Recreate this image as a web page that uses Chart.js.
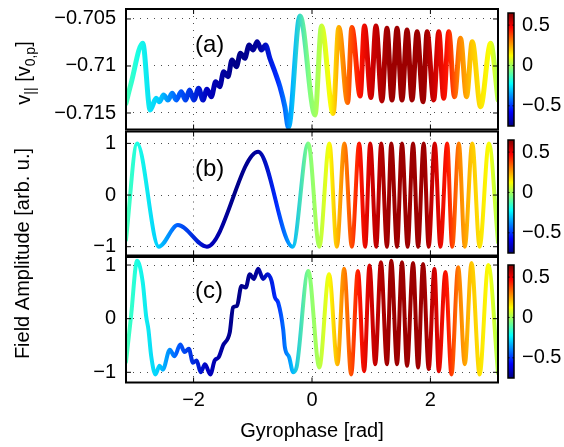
<!DOCTYPE html>
<html>
<head>
<meta charset="utf-8">
<script src="https://cdn.jsdelivr.net/npm/chart.js@4.4.0/dist/chart.umd.min.js"></script>
<style>
  html, body { margin: 0; padding: 0; background: #fff; }
  #wrap { position: relative; width: 564px; height: 447px; }
  #wrap canvas { position: absolute; left: 0; top: 0; }
</style>
</head>
<body>
<div id="wrap">
  <canvas id="panelA" width="564" height="447"></canvas>
  <canvas id="panelB" width="564" height="447"></canvas>
  <canvas id="panelC" width="564" height="447"></canvas>
</div>
<script>
// axis ticks
const phaseTicks = [-2, 0, 2];
const vparTicks = [-0.715, -0.71, -0.705];
const ampTicks = [-1, 0, 1];
const colourTicks = [-0.5, 0, 0.5];

// (a) parallel velocity vs gyrophase
const aPhase = [-3.142, -3.056, -2.859, -2.734, -2.633, -2.576, -2.508, -2.435, -2.361, -2.293,
  -2.209, -2.136, -2.068, -1.995, -1.915, -1.842, -1.775, -1.700, -1.627, -1.559,
  -1.492, -1.419, -1.351, -1.277, -1.209, -1.136, -1.062, -0.994, -0.927, -0.853,
  -0.785, -0.712, -0.627, -0.542, -0.458, -0.398, -0.203, 0.051, 0.161, 0.356,
  0.453, 0.602, 0.673, 0.814, 0.886, 0.995, 1.080, 1.181, 1.266, 1.351,
  1.436, 1.520, 1.605, 1.690, 1.775, 1.876, 1.944, 2.056, 2.141, 2.225,
  2.310, 2.407, 2.508, 2.610, 2.707, 2.847, 3.017, 3.142];
const aVpar = [-0.71397, -0.71184, -0.70758, -0.71468, -0.71344, -0.71380, -0.71309, -0.71362, -0.71291, -0.71362,
  -0.71273, -0.71362, -0.71255, -0.71362, -0.71237, -0.71362, -0.71248, -0.71326, -0.71167, -0.71220,
  -0.71061, -0.71114, -0.70936, -0.71007, -0.70865, -0.70918, -0.70777, -0.70830, -0.70741, -0.70830,
  -0.70777, -0.70918, -0.71061, -0.71220, -0.71433, -0.71654, -0.70468, -0.71521, -0.70574, -0.71505,
  -0.70590, -0.71388, -0.70590, -0.71319, -0.70574, -0.71335, -0.70574, -0.71372, -0.70599, -0.71362,
  -0.70599, -0.71362, -0.70617, -0.71362, -0.70635, -0.71380, -0.70635, -0.71362, -0.70635, -0.71344,
  -0.70635, -0.71326, -0.70705, -0.71326, -0.70741, -0.71433, -0.70759, -0.71362];

// (b) field amplitude
const bPhase = [-3.142, -2.954, -2.588, -2.266, -1.775, -0.910, -0.327, -0.063, 0.124, 0.293,
  0.419, 0.547, 0.673, 0.797, 0.898, 0.983, 1.085, 1.169, 1.266, 1.339,
  1.436, 1.520, 1.615, 1.707, 1.792, 1.886, 1.971, 2.073, 2.169, 2.283,
  2.368, 2.480, 2.581, 2.707, 2.831, 2.988, 3.142];
const bAmp = [-0.87, 1, -1, -0.58, -1, 0.84, -1, 1, -1, 1,
  -1, 1, -1, 1, -1, 1, -1, 1, -1, 1,
  -1, 1, -1, 1, -1, 1, -1, 1, -1, 1,
  -1, 1, -1, 1, -1, 1, -0.92];

// (c) field amplitude
const cPhase = [-3.142, -3.056, -2.954, -2.859, -2.802, -2.763, -2.717, -2.644, -2.576, -2.520,
  -2.402, -2.322, -2.225, -2.153, -2.080, -2.012, -1.949, -1.881, -1.808, -1.717,
  -1.644, -1.576, -1.503, -1.390, -1.333, -1.266, -1.192, -1.119, -1.051, -0.983,
  -0.910, -0.825, -0.751, -0.684, -0.627, -0.571, -0.486, -0.458, -0.385, -0.317,
  -0.259, -0.063, 0.124, 0.288, 0.429, 0.542, 0.661, 0.775, 0.881, 0.971,
  1.068, 1.164, 1.266, 1.339, 1.436, 1.520, 1.605, 1.707, 1.792, 1.876,
  1.971, 2.068, 2.141, 2.254, 2.356, 2.469, 2.581, 2.695, 2.831, 2.978, 3.142];
const cAmp = [-0.81, 0.05, 1.08, 0.68, 0.05, -0.2, -0.69, -1.04, -0.88, -0.95,
  -0.58, -0.70, -0.48, -0.62, -0.56, -0.82, -0.78, -1.0, -0.85, -1.04,
  -0.78, -0.72, -0.50, -0.26, 0.21, 0.24, 0.61, 0.58, 0.83, 0.74,
  0.93, 0.74, 0.83, 0.71, 0.40, 0.30, -0.20, -0.53, -0.72, -1.0,
  -0.9, 0.89, -0.91, 0.83, -0.85, 0.93, -1.04, 0.89, -0.98, 0.99,
  -0.85, 1.05, -0.85, 1.08, -0.85, 1.05, -0.88, 1.04, -0.91, 1.02,
  -0.94, 0.93, -0.98, 0.87, -1.04, 0.96, -0.85, 1.04, -1.04, 1.0, -1.02];

// colour value along gyrophase
const colourPhase = [-3.142, -2.95, -2.6, -2.27, -1.77, -1.3, -0.91, -0.6, -0.33, -0.06,
  0.12, 0.29, 0.42, 0.55, 0.8, 1.0, 1.3, 1.9, 2.07, 2.28, 2.48, 2.7, 2.99, 3.142];
const colourValue = [-0.12, -0.19, -0.29, -0.45, -0.66, -0.74, -0.71, -0.52, -0.32, -0.05,
  0.02, 0.12, 0.22, 0.30, 0.45, 0.54, 0.61, 0.61, 0.54, 0.45, 0.30, 0.20, 0.12, 0.0];
const colourMin = -0.75, colourMax = 0.65;

const FONT = '"Liberation Sans", Arial, Helvetica, sans-serif';
Chart.defaults.font.family = FONT;
Chart.defaults.color = '#000';

const fmt = v => String(v).replace('-', '\u2212');

// MATLAB-style jet colormap
function jet(v) {
  const t = Math.min(1, Math.max(0, (v - colourMin) / (colourMax - colourMin)));
  const ch = k => Math.round(255 * Math.min(1, Math.max(0, 1.5 - Math.abs(4 * t - k))));
  return `rgb(${ch(3)},${ch(2)},${ch(1)})`;
}

function phaseGradient(context) {
  const chart = context.chart;
  const xs = chart.scales.x;
  if (!xs || !chart.chartArea) return jet(0);
  const x0 = xs.getPixelForValue(-Math.PI), x1 = xs.getPixelForValue(Math.PI);
  const g = chart.ctx.createLinearGradient(x0, 0, x1, 0);
  colourPhase.forEach((p, i) => {
    const off = Math.min(1, Math.max(0, (p + Math.PI) / (2 * Math.PI)));
    g.addColorStop(off, jet(colourValue[i]));
  });
  return g;
}

// box, inward ticks, colour bar and panel letter
const framePlugin = {
  id: 'frame',
  afterDraw(chart, args, opts) {
    const {ctx, chartArea: a, scales} = chart;
    const line = (x1, y1, x2, y2) => { ctx.beginPath(); ctx.moveTo(x1, y1); ctx.lineTo(x2, y2); ctx.stroke(); };
    ctx.save();
    ctx.strokeStyle = '#000';
    ctx.lineWidth = 1;
    scales.x.ticks.forEach(t => {
      const px = scales.x.getPixelForValue(t.value);
      line(px, a.top, px, a.top + 5);
      line(px, a.bottom, px, a.bottom - 5);
    });
    scales.y.ticks.forEach(t => {
      const py = scales.y.getPixelForValue(t.value);
      line(a.left, py, a.left + 5, py);
      line(a.right, py, a.right - 5, py);
    });
    ctx.lineWidth = 2;
    ctx.strokeRect(a.left, a.top, a.right - a.left, a.bottom - a.top);

    // colour bar
    const cb = opts.bar;
    const g = ctx.createLinearGradient(0, cb.bottom, 0, cb.top);
    for (let i = 0; i <= 32; i++) g.addColorStop(i / 32, jet(colourMin + i / 32 * (colourMax - colourMin)));
    ctx.fillStyle = g;
    ctx.fillRect(cb.left, cb.top, cb.width, cb.bottom - cb.top);
    ctx.lineWidth = 1.5;
    ctx.strokeRect(cb.left, cb.top, cb.width, cb.bottom - cb.top);
    ctx.fillStyle = '#000';
    ctx.font = '20px ' + FONT;
    ctx.textAlign = 'left';
    ctx.textBaseline = 'middle';
    ctx.lineWidth = 1;
    colourTicks.forEach(v => {
      const py = cb.bottom - (v - colourMin) / (colourMax - colourMin) * (cb.bottom - cb.top);
      line(cb.left, py, cb.left + 1.5, py);
      line(cb.left + cb.width, py, cb.left + cb.width - 1.5, py);
      ctx.fillText(fmt(v), cb.left + cb.width + 8, py);
    });

    ctx.font = '24px ' + FONT;
    ctx.textBaseline = 'alphabetic';
    ctx.fillText(opts.letter, 195, opts.letterY);
    ctx.restore();
  }
};

// axis titles (drawn once, on the bottom panel)
const titlePlugin = {
  id: 'axisTitles',
  afterDraw(chart) {
    const ctx = chart.ctx;
    ctx.save();
    ctx.fillStyle = '#000';
    ctx.font = '20px ' + FONT;
    ctx.textAlign = 'center';
    ctx.textBaseline = 'alphabetic';
    ctx.fillText('Gyrophase [rad]', 312, 437);

    ctx.save();
    ctx.translate(28.5, 253.5);
    ctx.rotate(-Math.PI / 2);
    ctx.fillText('Field Amplitude [arb. u.]', 0, 0);
    ctx.restore();

    // v_|| [v_0,p] with subscripts
    const parts = [['v', false], ['||', true], [' [v', false], ['0,p', true], [']', false]];
    const mainF = '20px ' + FONT, subF = '14px ' + FONT;
    let total = 0;
    parts.forEach(([s, sub]) => { ctx.font = sub ? subF : mainF; total += ctx.measureText(s).width; });
    ctx.translate(30, 73);
    ctx.rotate(-Math.PI / 2);
    ctx.textAlign = 'left';
    let x = -total / 2;
    parts.forEach(([s, sub]) => {
      ctx.font = sub ? subF : mainF;
      ctx.fillText(s, x, sub ? 5 : 0);
      x += ctx.measureText(s).width;
    });
    ctx.restore();
  }
};

function panel(id, phase, values, cfg) {
  const area = cfg.area;
  const scaleCommon = {
    type: 'linear',
    grid: { color: 'rgba(0,0,0,0.7)', lineWidth: 1, drawTicks: false },
    border: { display: false, dash: [1, 6] }
  };
  return new Chart(document.getElementById(id), {
    type: 'scatter',
    data: {
      datasets: [{
        data: phase.map((p, i) => ({ x: p, y: values[i] })),
        showLine: true,
        pointRadius: 0,
        borderWidth: cfg.lineWidth,
        borderColor: phaseGradient,
        borderCapStyle: 'round',
        borderJoinStyle: 'round',
        cubicInterpolationMode: 'monotone',
        fill: false
      }]
    },
    options: {
      responsive: false,
      animation: false,
      events: [],
      layout: {
        autoPadding: false,
        padding: { left: 0, right: 564 - area.right, top: area.top, bottom: 0 }
      },
      plugins: {
        legend: { display: false },
        tooltip: { enabled: false },
        frame: { bar: cfg.bar, letter: cfg.letter, letterY: cfg.letterY }
      },
      scales: {
        x: {
          ...scaleCommon,
          min: -Math.PI,
          max: Math.PI,
          afterBuildTicks: s => { s.ticks = phaseTicks.map(v => ({ value: v })); },
          ticks: { display: cfg.showX, padding: 6, maxRotation: 0, autoSkip: false, font: { size: 20 }, callback: v => fmt(v) },
          afterFit: s => { s.height = 447 - area.bottom; s.paddingLeft = 0; s.paddingRight = 0; }
        },
        y: {
          ...scaleCommon,
          min: cfg.yMin,
          max: cfg.yMax,
          afterBuildTicks: s => { s.ticks = cfg.yTicks.map(v => ({ value: v })); },
          ticks: { padding: 10, autoSkip: false, font: { size: 20 }, callback: v => fmt(v) },
          afterFit: s => { s.width = area.left; s.paddingTop = 0; s.paddingBottom = 0; }
        }
      }
    },
    plugins: cfg.titles ? [framePlugin, titlePlugin] : [framePlugin]
  });
}

panel('panelA', aPhase, aVpar, {
  area: { left: 126, right: 498, top: 9, bottom: 129.5 },
  yMin: -0.716755, yMax: -0.70394, yTicks: vparTicks,
  lineWidth: 5, showX: false,
  bar: { left: 508, width: 6, top: 13, bottom: 126 },
  letter: '(a)', letterY: 52
});
panel('panelB', bPhase, bAmp, {
  area: { left: 126, right: 498, top: 131.5, bottom: 255.5 },
  yMin: -1.17, yMax: 1.23, yTicks: ampTicks,
  lineWidth: 4, showX: false,
  bar: { left: 508, width: 6, top: 140, bottom: 253 },
  letter: '(b)', letterY: 176
});
panel('panelC', cPhase, cAmp, {
  area: { left: 126, right: 498, top: 257, bottom: 382.5 },
  yMin: -1.19, yMax: 1.15, yTicks: ampTicks,
  lineWidth: 4, showX: true,
  bar: { left: 508, width: 6, top: 265, bottom: 378 },
  letter: '(c)', letterY: 298, titles: true
});
</script>
</body>
</html>
